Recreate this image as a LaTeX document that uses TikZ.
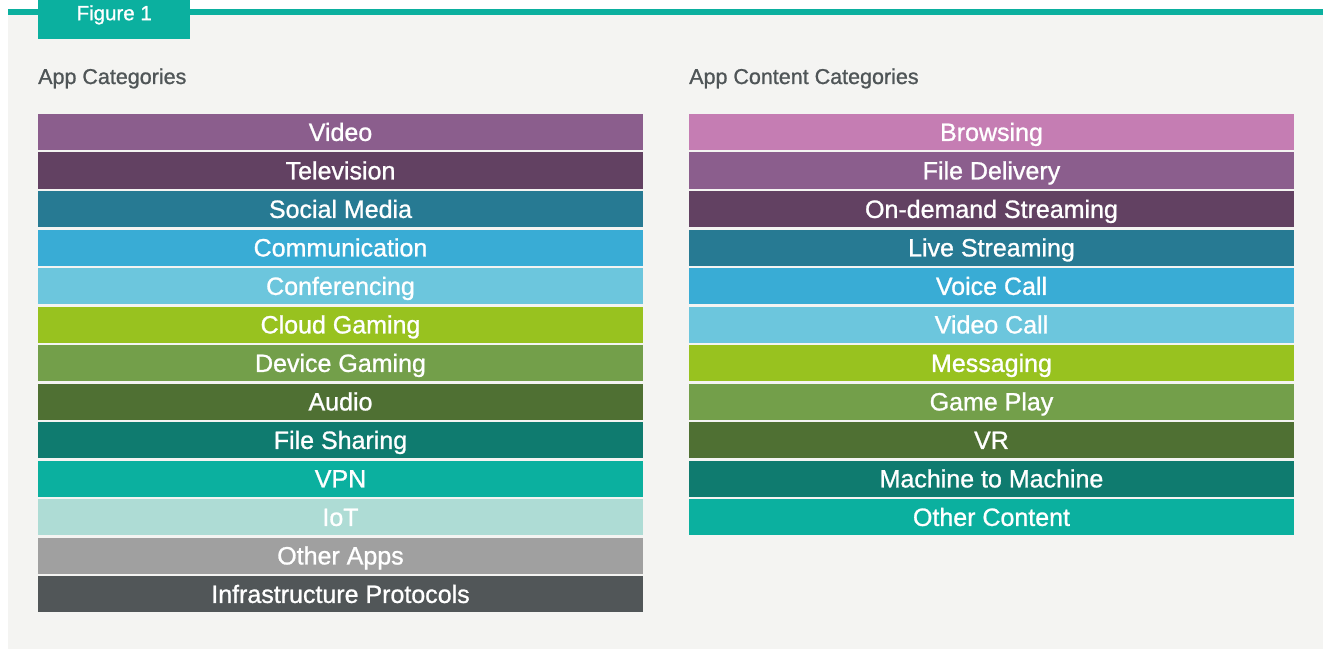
\documentclass[tikz,border=0pt]{standalone}
\usepackage{fontspec}
\setmainfont{Liberation Sans}
\newfontfamily\medfont[FakeBold=1]{Liberation Sans}
\usetikzlibrary{positioning}
\definecolor{figteal}{HTML}{0BB09F}
\definecolor{panelgrey}{HTML}{F4F4F2}
\definecolor{headgrey}{HTML}{4F5557}
\definecolor{cvideo}{HTML}{8B5E8D}
\definecolor{ctv}{HTML}{624162}
\definecolor{csocial}{HTML}{277A93}
\definecolor{ccomm}{HTML}{39ACD5}
\definecolor{cconf}{HTML}{6CC6DD}
\definecolor{ccloud}{HTML}{98C21F}
\definecolor{cdevice}{HTML}{739F4A}
\definecolor{caudio}{HTML}{4F7033}
\definecolor{cshare}{HTML}{0F7B6F}
\definecolor{cvpn}{HTML}{0BB09F}
\definecolor{ciot}{HTML}{AEDCD5}
\definecolor{cother}{HTML}{A0A0A0}
\definecolor{cinfra}{HTML}{515658}
\definecolor{cbrowse}{HTML}{C57DB3}

\begin{document}
\begin{tikzpicture}[
    x=1pt, y=-1pt,
    cat/.style={minimum width=605pt, minimum height=36pt, inner sep=0pt, outer sep=0pt, text=white,
        font=\medfont\fontsize{25}{28}\selectfont, text height=17.8pt, text depth=0pt},
    head/.style={anchor=base west, inner sep=0pt, text=headgrey, font=\medfont\fontsize{21.5}{25}\selectfont},
    node distance=2.5pt
]
\useasboundingbox (0,0) rectangle (1323,650);

% --- panel and title bar ---
\fill[panelgrey] (8,12) rectangle (1323,649);
\fill[figteal] (8,9) rectangle (1323,15);
\node[fill=figteal, anchor=north west, inner sep=0pt, minimum width=152pt,
      text height=20pt, text depth=19pt, text=white, font=\medfont\fontsize{20.5}{24}\selectfont] (tab) at (38,0) {Figure 1};

% --- column headings ---
\node[head] (apphead) at (38,84) {App Categories};
\node[head] (conthead) at (689,84) {App Content Categories};

% --- left column: app categories ---
\node[cat, fill=cvideo, anchor=north west] (video) at (38,114) {Video};
\node[cat, fill=ctv, below=of video] (tv) {Television};
\node[cat, fill=csocial, below=of tv] (social) {Social Media};
\node[cat, fill=ccomm, below=of social] (comm) {Communication};
\node[cat, fill=cconf, below=of comm] (conf) {Conferencing};
\node[cat, fill=ccloud, below=of conf] (cloud) {Cloud Gaming};
\node[cat, fill=cdevice, below=of cloud] (device) {Device Gaming};
\node[cat, fill=caudio, below=of device] (audio) {Audio};
\node[cat, fill=cshare, below=of audio] (share) {File Sharing};
\node[cat, fill=cvpn, below=of share] (vpn) {VPN};
\node[cat, fill=ciot, below=of vpn] (iot) {IoT};
\node[cat, fill=cother, below=of iot] (otherapps) {Other Apps};
\node[cat, fill=cinfra, below=of otherapps] (infra) {Infrastructure Protocols};

% --- right column: app content categories ---
\node[cat, fill=cbrowse, anchor=north west] (browse) at (689,114) {Browsing};
\node[cat, fill=cvideo, below=of browse] (filedel) {File Delivery};
\node[cat, fill=ctv, below=of filedel] (ondemand) {On-demand Streaming};
\node[cat, fill=csocial, below=of ondemand] (live) {Live Streaming};
\node[cat, fill=ccomm, below=of live] (voice) {Voice Call};
\node[cat, fill=cconf, below=of voice] (vidcall) {Video Call};
\node[cat, fill=ccloud, below=of vidcall] (msg) {Messaging};
\node[cat, fill=cdevice, below=of msg] (game) {Game Play};
\node[cat, fill=caudio, below=of game] (vr) {VR};
\node[cat, fill=cshare, below=of vr] (mtm) {Machine to Machine};
\node[cat, fill=cvpn, below=of mtm] (othercont) {Other Content};

\end{tikzpicture}
\end{document}
